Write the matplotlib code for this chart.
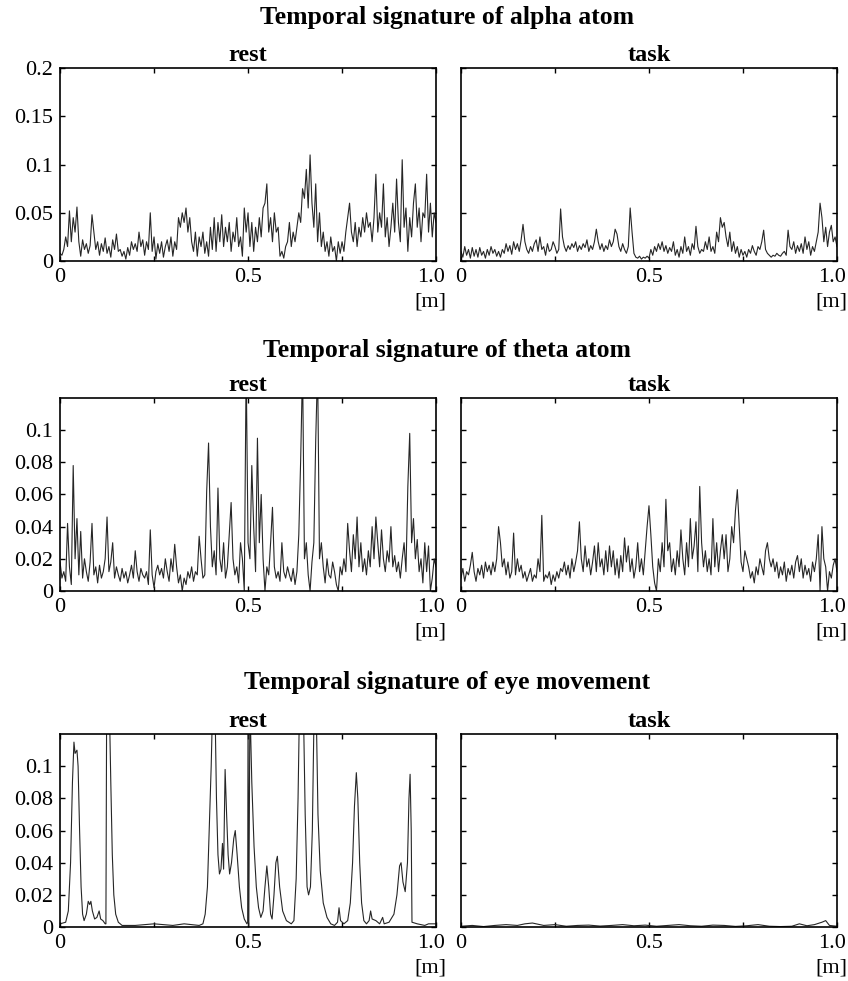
import numpy as np
import matplotlib
matplotlib.use('Agg')
import matplotlib.pyplot as plt
from matplotlib import ticker
from matplotlib.transforms import ScaledTranslation

plt.rcParams['font.family'] = ['Liberation Serif', 'DejaVu Serif']

# ---- values (time axis in [m], 0..1) ----
alpha_rest = [
    0.008, 0.006, 0.012, 0.025, 0.015, 0.052, 0.02, 0.045, 0.03, 0.056,
    0.02, 0.005, 0.022, 0.012, 0.018, 0.008, 0.016, 0.048, 0.03, 0.012,
    0.02, 0.006, 0.018, 0.01, 0.024, 0.008, 0.015, 0.004, 0.022, 0.012,
    0.028, 0.01, 0.012, 0.005, 0.01, 0.002, 0.014, 0.006, 0.02, 0.012,
    0.018, 0.01, 0.03, 0.015, 0.022, 0.006, 0.02, 0.012, 0.05, 0.01,
    0.025, 0.002, 0.018, 0.008, 0.02, 0.004, 0.015, 0.022, 0.01, 0.025,
    0.005, 0.02, 0.012, 0.045, 0.035, 0.05, 0.04, 0.055, 0.03, 0.045,
    0.02, 0.01, 0.03, 0.005, 0.025, 0.015, 0.03, 0.008, 0.02, 0.005,
    0.035, 0.012, 0.045, 0.01, 0.04, 0.02, 0.048, 0.015, 0.035, 0.02,
    0.04, 0.01, 0.03, 0.02, 0.045, 0.015, 0.025, 0.005, 0.055, 0.03,
    0.05, 0.015, 0.04, 0.01, 0.035, 0.02, 0.045, 0.025, 0.055, 0.06,
    0.08, 0.03, 0.045, 0.02, 0.05, 0.03, 0.035, 0.005, 0.01, 0.003,
    0.015, 0.02, 0.04, 0.015, 0.03, 0.02, 0.035, 0.05, 0.04, 0.075,
    0.065, 0.095, 0.055, 0.11, 0.06, 0.035, 0.08, 0.02, 0.05, 0.015,
    0.03, 0.01, 0.02, 0.005, 0.025, 0.01, 0.015, 0.0, 0.02, 0.008,
    0.02, 0.01, 0.03, 0.045, 0.06, 0.03, 0.02, 0.04, 0.015, 0.035,
    0.025, 0.045, 0.03, 0.05, 0.035, 0.04, 0.02, 0.045, 0.09, 0.03,
    0.05, 0.035, 0.08, 0.025, 0.045, 0.015, 0.035, 0.06, 0.03, 0.085,
    0.04, 0.02, 0.105, 0.035, 0.055, 0.01, 0.045, 0.025, 0.06, 0.08,
    0.035, 0.055, 0.02, 0.05, 0.045, 0.09, 0.03, 0.06, 0.025, 0.05, 0.04]

alpha_task = [
    0.01, 0.004, 0.015, 0.006, 0.012, 0.003, 0.014, 0.005, 0.012, 0.004,
    0.014, 0.006, 0.01, 0.003, 0.012, 0.006, 0.015, 0.008, 0.012, 0.005,
    0.01, 0.004, 0.012, 0.008, 0.018, 0.01, 0.016, 0.007, 0.02, 0.012,
    0.018, 0.01, 0.022, 0.038, 0.02, 0.012, 0.008, 0.015, 0.01, 0.018,
    0.022, 0.01, 0.025, 0.012, 0.015, 0.006, 0.018, 0.01, 0.012, 0.02,
    0.015, 0.008, 0.012, 0.054, 0.025, 0.015, 0.01, 0.016, 0.012, 0.018,
    0.014, 0.02, 0.01, 0.016, 0.012, 0.018, 0.014, 0.022, 0.01, 0.016,
    0.012, 0.02, 0.033, 0.02, 0.012, 0.018, 0.01, 0.016, 0.012, 0.022,
    0.015, 0.02, 0.033, 0.028, 0.015, 0.01, 0.018, 0.012, 0.008, 0.015,
    0.055, 0.03, 0.008, 0.004, 0.003, 0.005, 0.002, 0.004, 0.003, 0.005,
    0.003, 0.012, 0.006, 0.015, 0.01, 0.018, 0.012, 0.02, 0.01, 0.016,
    0.008, 0.014, 0.01, 0.02, 0.006, 0.012, 0.004, 0.015, 0.008, 0.025,
    0.01, 0.015, 0.006, 0.018, 0.012, 0.036, 0.015, 0.008, 0.012, 0.01,
    0.02, 0.012, 0.025, 0.01, 0.015, 0.008, 0.03, 0.02, 0.045, 0.035,
    0.04, 0.025, 0.015, 0.03, 0.01, 0.02, 0.008, 0.015, 0.004, 0.012,
    0.006, 0.01, 0.004, 0.012, 0.008, 0.016, 0.01, 0.006, 0.015, 0.012,
    0.02, 0.032, 0.012, 0.008, 0.006, 0.004, 0.006, 0.005, 0.008, 0.006,
    0.005, 0.008, 0.01, 0.006, 0.032, 0.015, 0.012, 0.02, 0.008, 0.016,
    0.01, 0.018, 0.008, 0.025, 0.012, 0.02, 0.006, 0.015, 0.01, 0.02,
    0.03, 0.06, 0.045, 0.02, 0.035, 0.015, 0.03, 0.037, 0.02, 0.025, 0.015]

theta_rest = [
    0.018, 0.008, 0.012, 0.006, 0.042, 0.015, 0.004, 0.078, 0.02, 0.045,
    0.01, 0.037, 0.008, 0.02, 0.012, 0.006, 0.018, 0.042, 0.01, 0.015,
    0.005, 0.016, 0.008, 0.012, 0.02, 0.046, 0.012, 0.018, 0.03, 0.008,
    0.015, 0.01, 0.006, 0.014, 0.008, 0.012, 0.005, 0.01, 0.016, 0.008,
    0.025, 0.012, 0.006, 0.014, 0.01, 0.008, 0.012, 0.004, 0.038, 0.01,
    0.002, 0.012, 0.016, 0.01, 0.014, 0.008, 0.02, 0.012, 0.006, 0.02,
    0.012, 0.029, 0.015, 0.005, 0.01, 0.0, 0.008, 0.004, 0.012, 0.008,
    0.015, 0.006, 0.012, 0.01, 0.034, 0.02, 0.008, 0.01, 0.062, 0.092,
    0.04, 0.015, 0.025, 0.01, 0.064, 0.02, 0.012, 0.03, 0.008, 0.015,
    0.035, 0.055, 0.02, 0.01, 0.015, 0.005, 0.03, 0.02, 0.0, 0.14,
    0.03, 0.02, 0.078, 0.04, 0.012, 0.095, 0.03, 0.06, 0.02, 0.0,
    0.015, 0.01, 0.03, 0.052, 0.015, 0.008, 0.012, 0.006, 0.03, 0.012,
    0.008, 0.015, 0.01, 0.006, 0.014, 0.004, 0.012, 0.035, 0.082, 0.14,
    0.02, 0.03, 0.01, 0.0, 0.018, 0.03, 0.094, 0.14, 0.02, 0.03,
    0.015, 0.005, 0.02, 0.01, 0.008, 0.018, 0.012, 0.004, 0.0, 0.015,
    0.01, 0.02, 0.012, 0.042, 0.025, 0.012, 0.035, 0.02, 0.046, 0.015,
    0.03, 0.012, 0.02, 0.01, 0.025, 0.015, 0.04, 0.02, 0.046, 0.03,
    0.015, 0.038, 0.02, 0.012, 0.025, 0.018, 0.04, 0.015, 0.022, 0.012,
    0.018, 0.008, 0.02, 0.03, 0.012, 0.065, 0.098, 0.03, 0.045, 0.02,
    0.032, 0.012, 0.02, 0.005, 0.03, 0.012, 0.028, 0.0, 0.008, 0.02, 0.015]

theta_task = [
    0.008, 0.014, 0.006, 0.012, 0.01, 0.016, 0.024, 0.012, 0.006, 0.014,
    0.01, 0.016, 0.008, 0.018, 0.012, 0.016, 0.01, 0.018, 0.012, 0.02,
    0.04, 0.03, 0.015, 0.02, 0.01, 0.018, 0.008, 0.012, 0.036, 0.01,
    0.02, 0.012, 0.016, 0.008, 0.012, 0.006, 0.01, 0.014, 0.006, 0.01,
    0.008, 0.02, 0.012, 0.047, 0.006, 0.01, 0.008, 0.012, 0.004, 0.01,
    0.006, 0.012, 0.008, 0.014, 0.012, 0.018, 0.01, 0.016, 0.008, 0.02,
    0.012, 0.018, 0.025, 0.043, 0.02, 0.012, 0.028, 0.015, 0.02, 0.01,
    0.018, 0.028, 0.012, 0.03, 0.015, 0.02, 0.01, 0.025, 0.012, 0.028,
    0.015, 0.025, 0.01, 0.02, 0.008, 0.022, 0.012, 0.033, 0.018, 0.028,
    0.012, 0.02, 0.008, 0.015, 0.03, 0.012, 0.02, 0.01, 0.025, 0.04,
    0.053, 0.035, 0.015, 0.005, 0.0, 0.02, 0.012, 0.03, 0.015, 0.057,
    0.025, 0.03, 0.012, 0.02, 0.01, 0.025, 0.015, 0.038, 0.02, 0.01,
    0.03, 0.015, 0.045, 0.02, 0.028, 0.043, 0.012, 0.065, 0.03, 0.015,
    0.025, 0.012, 0.02, 0.01, 0.045, 0.015, 0.03, 0.012, 0.025, 0.035,
    0.02, 0.035, 0.012, 0.02, 0.04, 0.03, 0.05, 0.063, 0.04, 0.018,
    0.012, 0.025, 0.02, 0.015, 0.008, 0.012, 0.005, 0.015, 0.01, 0.02,
    0.015, 0.01, 0.025, 0.03, 0.02, 0.015, 0.02, 0.012, 0.018, 0.008,
    0.015, 0.01, 0.018, 0.006, 0.014, 0.01, 0.016, 0.008, 0.018, 0.022,
    0.012, 0.02, 0.008, 0.016, 0.01, 0.014, 0.006, 0.018, 0.012, 0.02,
    0.035, 0.0, 0.04, 0.02, 0.015, 0.0, 0.012, 0.008, 0.016, 0.02, 0.012]

# eye movement signatures are smoother, so they are given as (time, value) pairs
eye_rest_t = [
    0.0, 0.015, 0.022, 0.028, 0.033, 0.037, 0.040, 0.045, 0.048, 0.052,
    0.056, 0.06, 0.064, 0.07, 0.075, 0.079, 0.082, 0.086, 0.092, 0.098,
    0.104, 0.108, 0.114, 0.12, 0.122, 0.124, 0.127, 0.131, 0.135, 0.139,
    0.143, 0.148, 0.155, 0.165, 0.2, 0.25, 0.3, 0.33, 0.37, 0.38,
    0.386, 0.392, 0.398, 0.402, 0.406, 0.412, 0.416, 0.42, 0.424, 0.428,
    0.432, 0.435, 0.439, 0.443, 0.447, 0.451, 0.456, 0.462, 0.466, 0.471,
    0.477, 0.483, 0.49, 0.497, 0.499, 0.5, 0.502, 0.505, 0.51, 0.516,
    0.522, 0.528, 0.534, 0.54, 0.545, 0.55, 0.555, 0.56, 0.564, 0.569,
    0.574, 0.578, 0.584, 0.592, 0.602, 0.615, 0.622, 0.628, 0.633, 0.637,
    0.647, 0.652, 0.657, 0.661, 0.666, 0.671, 0.676, 0.681, 0.686, 0.692,
    0.7, 0.71, 0.72, 0.73, 0.738, 0.742, 0.746, 0.755, 0.765, 0.772,
    0.778, 0.783, 0.788, 0.792, 0.797, 0.802, 0.808, 0.815, 0.822, 0.826,
    0.83, 0.84, 0.85, 0.858, 0.862, 0.875, 0.888, 0.896, 0.903, 0.907,
    0.912, 0.918, 0.924, 0.928, 0.931, 0.934, 0.936, 0.95, 0.97, 0.98, 1.0]
eye_rest_v = [
    0.002, 0.003, 0.01, 0.04, 0.09, 0.115, 0.108, 0.11, 0.1, 0.06,
    0.025, 0.008, 0.004, 0.008, 0.016, 0.014, 0.016, 0.01, 0.005, 0.006,
    0.01, 0.005, 0.004, 0.002, 0.002, 0.14, 0.14, 0.14, 0.09, 0.045,
    0.02, 0.008, 0.003, 0.001, 0.001, 0.002, 0.001, 0.002, 0.001, 0.002,
    0.008, 0.025, 0.07, 0.1, 0.14, 0.14, 0.08, 0.045, 0.033, 0.036,
    0.052, 0.036, 0.098, 0.07, 0.045, 0.033, 0.04, 0.055, 0.06, 0.045,
    0.025, 0.012, 0.005, 0.002, 0.003, 0.14, 0.0, 0.14, 0.09, 0.05,
    0.025, 0.012, 0.006, 0.01, 0.025, 0.038, 0.025, 0.008, 0.005, 0.02,
    0.04, 0.044, 0.025, 0.01, 0.004, 0.002, 0.004, 0.03, 0.08, 0.14,
    0.14, 0.07, 0.025, 0.02, 0.025, 0.06, 0.14, 0.14, 0.07, 0.035,
    0.015, 0.006, 0.002, 0.001, 0.003, 0.012, 0.004, 0.002, 0.004, 0.015,
    0.04, 0.075, 0.096, 0.08, 0.04, 0.015, 0.004, 0.002, 0.004, 0.01,
    0.005, 0.004, 0.002, 0.006, 0.002, 0.003, 0.008, 0.02, 0.038, 0.04,
    0.028, 0.022, 0.04, 0.08, 0.095, 0.06, 0.003, 0.002, 0.001, 0.002, 0.002]

eye_task_t = [0, 0.03, 0.06, 0.09, 0.12, 0.15, 0.17, 0.19, 0.22, 0.25,
              0.28, 0.31, 0.34, 0.37, 0.4, 0.43, 0.46, 0.49, 0.52, 0.55,
              0.58, 0.61, 0.64, 0.67, 0.7, 0.73, 0.76, 0.79, 0.82, 0.85,
              0.88, 0.9, 0.92, 0.94, 0.96, 0.97, 0.98, 1.0]
eye_task_v = [0.0005, 0.001, 0.0003, 0.001, 0.0015, 0.001, 0.002, 0.0025, 0.001, 0.0015,
              0.0005, 0.001, 0.0012, 0.0006, 0.001, 0.0015, 0.0008, 0.0012, 0.0005, 0.001,
              0.0015, 0.0008, 0.0005, 0.0012, 0.001, 0.0004, 0.0008, 0.0015, 0.0005, 0.0003,
              0.0005, 0.002, 0.0008, 0.0015, 0.003, 0.004, 0.001, 0.0005]

row_titles = ['Temporal signature of alpha atom',
              'Temporal signature of theta atom',
              'Temporal signature of eye movement']
panel_titles = ['rest', 'task']

x_ticks = [0, 0.25, 0.5, 0.75, 1.0]
x_ticklabels = ['0', '', '0.5', '', '1.0']
y_ticks_alpha = [0, 0.05, 0.1, 0.15, 0.2]
y_ticks_other = [0, 0.02, 0.04, 0.06, 0.08, 0.1]


def style_axes(fig, ax, yticks, ylim, show_ylabels):
    ax.set_xlim(0, 1.0)
    ax.set_ylim(0, ylim)
    ax.xaxis.set_major_locator(ticker.FixedLocator(x_ticks))
    ax.xaxis.set_major_formatter(ticker.FixedFormatter(x_ticklabels))
    ax.yaxis.set_major_locator(ticker.FixedLocator(yticks))
    if show_ylabels:
        ax.yaxis.set_major_formatter(ticker.FuncFormatter(lambda v, pos: '{0:g}'.format(v)))
    else:
        ax.yaxis.set_major_formatter(ticker.NullFormatter())
    ax.yaxis.set_ticks_position('both')
    ax.xaxis.set_ticks_position('both')
    ax.tick_params(direction='in', length=3.5, width=1.0, labelsize=16, pad=5)
    # the '1.0' label sits a little left of the right edge in the original
    last = ax.xaxis.get_major_ticks()[-1].label1
    last.set_transform(last.get_transform() + ScaledTranslation(-5 / 100, 0, fig.dpi_scale_trans))
    for s in ax.spines.values():
        s.set_linewidth(1.2)
    ax.annotate('[m]', xy=(0.985, 0), xycoords='axes fraction', xytext=(0, -41),
                textcoords='offset pixels', ha='center', va='center', fontsize=16)


fig = plt.figure(figsize=(8.48, 9.81), dpi=100)

# axes placement: [left, bottom, width, height] in figure fraction
lefts = [0.0708, 0.5436]
width = 0.4434
bottoms = [0.7339, 0.3976, 0.0550]
height = 0.1967
title_y = [0.9817, 0.6432, 0.3038]

series = [
    (np.linspace(0, 1, len(alpha_rest)), alpha_rest,
     np.linspace(0, 1, len(alpha_task)), alpha_task, y_ticks_alpha, 0.2),
    (np.linspace(0, 1, len(theta_rest)), theta_rest,
     np.linspace(0, 1, len(theta_task)), theta_task, y_ticks_other, 0.12),
    (eye_rest_t, eye_rest_v, eye_task_t, eye_task_v, y_ticks_other, 0.12),
]

for r, (tr, vr, tt, vt, yt, ylim) in enumerate(series):
    fig.text(0.527, title_y[r], row_titles[r], ha='center', va='center',
             fontsize=18.5, fontweight='bold')
    for c, (t, v) in enumerate([(tr, vr), (tt, vt)]):
        ax = fig.add_axes([lefts[c], bottoms[r], width, height])
        ax.plot(t, v, color='#262626', linewidth=0.8)
        style_axes(fig, ax, yt, ylim, c == 0)
        ax.set_title(panel_titles[c], fontsize=17.5, fontweight='bold', pad=5)

plt.savefig('out.png', dpi=100)
